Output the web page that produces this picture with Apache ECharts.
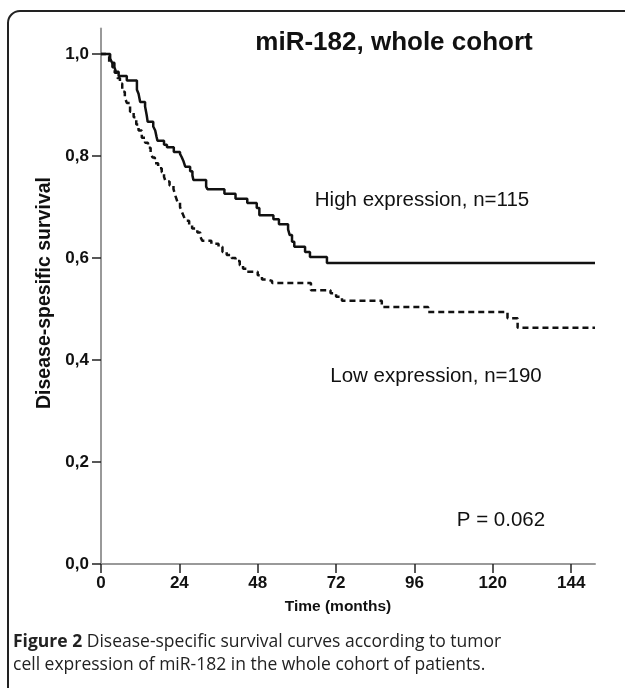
<!DOCTYPE html>
<html><head><meta charset="utf-8">
<script src="https://cdn.jsdelivr.net/npm/echarts@6/dist/echarts.min.js"></script>
<style>html,body{margin:0;padding:0;background:#fff}#c{width:625px;height:688px}</style>
</head><body><div id="c"></div>
<script>
// Kaplan-Meier step events: [month, survival]
const highExpression = [
  [0,1.000],[2.8,0.991],[3.4,0.983],[4.1,0.974],[4.6,0.965],[5.4,0.957],[7.9,0.948],
  [11.0,0.930],[11.5,0.922],[12.0,0.906],[13.5,0.897],[14.0,0.880],[14.3,0.867],
  [16.0,0.858],[16.6,0.850],[17.0,0.838],[17.3,0.830],[19.3,0.822],[20.2,0.817],
  [22.3,0.808],[24.2,0.804],[24.7,0.798],[25.3,0.789],[25.8,0.779],[27.3,0.770],
  [28.0,0.762],[28.3,0.753],[32.2,0.740],[32.6,0.735],[37.8,0.726],[41.2,0.716],
  [44.8,0.708],[47.7,0.698],[48.5,0.684],[52.8,0.676],[54.5,0.666],[57.3,0.656],
  [57.8,0.645],[58.5,0.632],[59.2,0.622],[62.5,0.612],[64.0,0.602],[69.2,0.590],
  [151.3,0.590]
];
const lowExpression = [
  [0,1.000],[1.5,0.995],[2.5,0.984],[3.5,0.974],[4.2,0.963],[5.0,0.953],[5.8,0.942],
  [6.5,0.926],[7.3,0.915],[7.9,0.904],[8.9,0.887],[10.0,0.876],[10.8,0.862],[11.5,0.850],
  [12.5,0.836],[13.5,0.826],[14.4,0.816],[15.2,0.806],[15.8,0.797],[16.5,0.786],
  [17.5,0.776],[18.6,0.768],[19.3,0.759],[19.8,0.750],[21.0,0.742],[22.2,0.735],
  [22.8,0.722],[23.4,0.710],[24.2,0.700],[24.8,0.690],[25.4,0.681],[26.0,0.673],
  [27.0,0.665],[27.9,0.658],[29.5,0.650],[30.4,0.642],[31.0,0.634],[33.8,0.628],
  [36.0,0.622],[37.2,0.612],[38.5,0.606],[40.0,0.600],[41.2,0.594],[42.5,0.586],
  [43.5,0.579],[44.7,0.573],[48.0,0.566],[49.3,0.558],[51.0,0.555],[52.4,0.551],
  [64.3,0.537],[70.3,0.531],[72.0,0.524],[73.8,0.516],[86.0,0.504],[100.2,0.494],
  [124.5,0.482],[127.6,0.463],[151.3,0.463]
];
const xTicks = [0,24,48,72,96,120,144];
const yTicks = [0,0.2,0.4,0.6,0.8,1.0];
const chartTitle = 'miR-182, whole cohort';
const highLabel = 'High expression, n=115';
const lowLabel = 'Low expression, n=190';
const pLabel = 'P = 0.062';
const xName = 'Time (months)';
const yName = 'Disease-spesific survival';
const captionBold = 'Figure 2';
const captionLine1 = ' Disease-specific survival curves according to tumor';
const captionLine2 = 'cell expression of miR-182 in the whole cohort of patients.';

const chart = echarts.init(document.getElementById('c'), null, {renderer:'canvas'});
const narrow = '"Liberation Sans Narrow","Arial Narrow","Liberation Sans",Arial,sans-serif';
const sans = '"Liberation Sans",Arial,sans-serif';
chart.setOption({
  animation:false,
  grid:{left:101,right:30,top:28.5,bottom:124},
  xAxis:{type:'value',min:0,max:151.3,
    axisLine:{lineStyle:{color:'#999',width:2}},
    axisTick:{customValues:xTicks,length:9,lineStyle:{color:'#222',width:1.5}},
    axisLabel:{customValues:xTicks,color:'#111',fontFamily:narrow,fontWeight:'bold',fontSize:17,margin:11},
    splitLine:{show:false}},
  yAxis:{type:'value',min:0,max:1.05,
    axisLine:{show:true,lineStyle:{color:'#999',width:2}},
    axisTick:{show:true,customValues:yTicks,length:9,lineStyle:{color:'#222',width:1.5}},
    axisLabel:{customValues:yTicks,color:'#111',fontFamily:narrow,fontWeight:'bold',fontSize:17,margin:12,
      formatter:v=>v.toFixed(1).replace('.',',')},
    splitLine:{show:false}},
  series:[
    {type:'line',step:'end',showSymbol:false,data:highExpression,
      lineStyle:{color:'#111',width:2.5,type:'solid'}},
    {type:'line',step:'end',showSymbol:false,data:lowExpression,
      lineStyle:{color:'#111',width:2.5,type:[6,4]}}
  ],
  graphic:[
    {type:'rect',shape:{x:8,y:11,width:660,height:720,r:12},style:{fill:'none',stroke:'#222',lineWidth:2},z:-1},
    {type:'text',x:394,y:43,style:{text:chartTitle,font:'bold 26px '+sans,fill:'#111',textAlign:'center',textVerticalAlign:'middle'}},
    {type:'text',x:422,y:200,style:{text:highLabel,font:'20.5px '+sans,fill:'#111',textAlign:'center',textVerticalAlign:'middle'}},
    {type:'text',x:436,y:376,style:{text:lowLabel,font:'20.5px '+sans,fill:'#111',textAlign:'center',textVerticalAlign:'middle'}},
    {type:'text',x:501,y:520,style:{text:pLabel,font:'20.5px '+sans,fill:'#111',textAlign:'center',textVerticalAlign:'middle'}},
    {type:'text',x:338,y:607,style:{text:xName,font:'bold 15.5px '+sans,fill:'#111',textAlign:'center',textVerticalAlign:'middle'}},
    {type:'text',x:45,y:293,rotation:Math.PI/2,style:{text:yName,font:'bold 19.5px '+sans,fill:'#111',textAlign:'center',textVerticalAlign:'middle'}},
    {type:'text',x:13,y:642,style:{rich:{b:{font:'bold 17.5px "Open Sans",sans-serif',fill:'#222'},r:{font:'17.5px "Open Sans",sans-serif',fill:'#222'}},
      text:'{b|'+captionBold+'}{r|'+captionLine1+'}',textVerticalAlign:'middle'}},
    {type:'text',x:13,y:665,style:{text:captionLine2,font:'17.5px "Open Sans",sans-serif',fill:'#222',textVerticalAlign:'middle'}}
  ]
});
</script></body></html>
